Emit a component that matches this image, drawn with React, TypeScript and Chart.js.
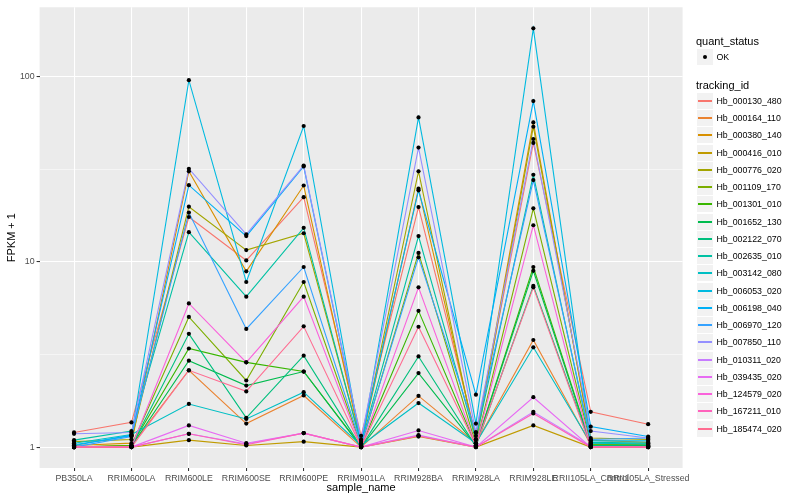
import React, { useEffect, useRef } from "react";
import { Chart, registerables } from "chart.js";

Chart.register(...registerables);

const categories = [
  "PB350LA",
  "RRIM600LA",
  "RRIM600LE",
  "RRIM600SE",
  "RRIM600PE",
  "RRIM901LA",
  "RRIM928BA",
  "RRIM928LA",
  "RRIM928LE",
  "RRII105LA_Control",
  "RRII105LA_Stressed",
];

const yMajorTicks = [1, 10, 100];
const yMinorTicks = [3.1623, 31.623];

const trackingIds = [
  "Hb_000130_480",
  "Hb_000164_110",
  "Hb_000380_140",
  "Hb_000416_010",
  "Hb_000776_020",
  "Hb_001109_170",
  "Hb_001301_010",
  "Hb_001652_130",
  "Hb_002122_070",
  "Hb_002635_010",
  "Hb_003142_080",
  "Hb_006053_020",
  "Hb_006198_040",
  "Hb_006970_120",
  "Hb_007850_110",
  "Hb_010311_020",
  "Hb_039435_020",
  "Hb_124579_020",
  "Hb_167211_010",
  "Hb_185474_020",
];

const palette = [
  "#F8766D", "#EA8331", "#D89000", "#C09B00", "#A3A500",
  "#7CAE00", "#39B600", "#00BB4E", "#00BF7D", "#00C1A3",
  "#00BFC4", "#00BAE0", "#00B0F6", "#35A2FF", "#9590FF",
  "#C77CFF", "#E76BF3", "#FA62DB", "#FF62BC", "#FF6C91",
];

const hb000130_480 = [1.2, 1.36, 17.5, 10.2, 22.4, 1.15, 19.8, 1.15, 44.0, 1.55, 1.33];
const hb000164_110 = [1.0, 1.02, 2.6, 1.34, 1.9, 1.0, 1.89, 1.05, 3.79, 1.03, 1.02];
const hb000380_140 = [1.02, 1.05, 30.9, 8.9, 25.9, 1.04, 24.9, 1.1, 56.8, 1.09, 1.06];
const hb000416_010 = [1.0, 1.0, 1.09, 1.02, 1.07, 1.0, 1.14, 1.0, 1.31, 1.0, 1.0];
const hb000776_020 = [1.07, 1.1, 19.9, 11.6, 14.3, 1.05, 30.9, 1.05, 53.8, 1.12, 1.1];
const hb001109_170 = [1.0, 1.02, 5.05, 2.29, 7.8, 1.01, 11.2, 1.03, 19.5, 1.04, 1.04];
const hb001301_010 = [1.0, 1.02, 3.41, 2.87, 2.56, 1.01, 5.45, 1.02, 9.4, 1.03, 1.03];
const hb001652_130 = [1.0, 1.01, 2.93, 2.15, 2.56, 1.0, 2.51, 1.02, 8.96, 1.02, 1.02];
const hb002122_070 = [1.0, 1.01, 4.09, 1.44, 3.12, 1.0, 3.09, 1.01, 7.43, 1.02, 1.01];
const hb002635_010 = [1.09, 1.22, 14.5, 6.5, 15.3, 1.04, 13.8, 1.1, 29.6, 1.06, 1.05];
const hb003142_080 = [1.05, 1.17, 1.71, 1.42, 1.98, 1.02, 1.73, 1.05, 3.46, 1.05, 1.04];
const hb006053_020 = [1.03, 1.15, 96, 7.8, 54.3, 1.02, 60.4, 1.34, 183, 1.08, 1.08];
const hb006198_040 = [1.02, 1.16, 26.0, 13.8, 32.8, 1.08, 24.4, 1.92, 74, 1.29, 1.14];
const hb006970_120 = [1.0, 1.14, 18.5, 4.35, 9.4, 1.03, 10.6, 1.2, 27.7, 1.1, 1.12];
const hb007850_110 = [1.18, 1.2, 31.9, 14.1, 33.2, 1.1, 41.5, 1.2, 46.2, 1.22, 1.12];
const hb010311_020 = [1.0, 1.0, 1.18, 1.04, 1.19, 1.0, 1.16, 1.0, 1.55, 1.01, 1.0];
const hb039435_020 = [1.0, 1.0, 1.31, 1.05, 1.19, 1.0, 1.23, 1.0, 1.86, 1.0, 1.0];
const hb124579_020 = [1.0, 1.0, 5.97, 2.87, 6.5, 1.0, 7.3, 1.02, 15.8, 1.0, 1.0];
const hb167211_010 = [1.0, 1.0, 1.18, 1.03, 1.19, 1.0, 1.15, 1.0, 1.52, 1.0, 1.0];
const hb185474_020 = [1.0, 1.0, 2.6, 2.0, 4.49, 1.0, 4.47, 1.02, 7.3, 1.0, 1.0];

const seriesValues = [
  hb000130_480, hb000164_110, hb000380_140, hb000416_010, hb000776_020,
  hb001109_170, hb001301_010, hb001652_130, hb002122_070, hb002635_010,
  hb003142_080, hb006053_020, hb006198_040, hb006970_120, hb007850_110,
  hb010311_020, hb039435_020, hb124579_020, hb167211_010, hb185474_020,
];

const FONT = "'Liberation Sans', Arial, Helvetica, sans-serif";

export default function App() {
  const ref = useRef<HTMLCanvasElement>(null);

  useEffect(() => {
    document.body.style.margin = "0";
    const canvas = ref.current;
    if (!canvas) return;

    const panelBg = {
      id: "panelBg",
      beforeDraw(chart: any) {
        const { ctx, chartArea: a } = chart;
        ctx.save();
        ctx.fillStyle = "#EBEBEB";
        ctx.fillRect(a.left, a.top, a.right - a.left, a.bottom - a.top);
        ctx.restore();
      },
    };

    const lineSets: any[] = seriesValues.map((vals, i) => ({
      type: "line",
      label: trackingIds[i],
      data: vals.map((v, j) => ({ x: j, y: v })),
      borderColor: palette[i],
      backgroundColor: palette[i],
      borderWidth: 1.1,
      pointRadius: 0,
      pointHoverRadius: 0,
      tension: 0,
      fill: false,
      order: -i,
    }));

    const pointSet: any = {
      type: "scatter",
      label: "OK",
      data: seriesValues.flatMap((vals) => vals.map((v, j) => ({ x: j, y: v }))),
      pointRadius: 2.1,
      pointHoverRadius: 2.1,
      pointBackgroundColor: "#000000",
      pointBorderWidth: 0,
      borderWidth: 0,
      showLine: false,
      order: -100,
    };

    const chart = new Chart(canvas, {
      type: "line",
      data: { datasets: [...lineSets, pointSet] },
      options: {
        animation: false,
        responsive: false,
        events: [],
        layout: { padding: { left: 0, top: 5, right: 117.4, bottom: 0 } },
        plugins: { legend: { display: false }, tooltip: { enabled: false } },
        scales: {
          x: {
            type: "linear",
            min: -0.6,
            max: 10.6,
            afterBuildTicks: (s: any) => {
              s.ticks = categories.map((_, i) => ({ value: i }));
            },
            afterFit: (s: any) => {
              s.height = 32;
            },
            ticks: {
              autoSkip: false,
              maxRotation: 0,
              minRotation: 0,
              padding: 2,
              color: "#4D4D4D",
              font: { family: FONT, size: 8.8 },
              callback: (v: any) => categories[v as number] ?? "",
            },
            grid: {
              color: "#FFFFFF",
              lineWidth: 1.07,
              tickLength: 3,
              tickColor: "#333333",
              tickWidth: 1.07,
            },
            border: { display: false },
            title: {
              display: true,
              text: "sample_name",
              color: "#000000",
              font: { family: FONT, size: 11 },
              padding: { top: 0, bottom: 5 },
            },
          },
          y: {
            type: "logarithmic",
            min: 0.771,
            max: 237.8,
            afterBuildTicks: (s: any) => {
              s.ticks = [...yMajorTicks, ...yMinorTicks]
                .sort((a, b) => a - b)
                .map((v) => ({ value: v }));
            },
            afterFit: (s: any) => {
              s.width = 39.6;
            },
            ticks: {
              autoSkip: false,
              padding: 2,
              color: "#4D4D4D",
              font: { family: FONT, size: 8.8 },
              callback: (v: any) => (yMajorTicks.includes(v as number) ? String(v) : ""),
            },
            grid: {
              color: "#FFFFFF",
              lineWidth: (c: any) => (yMajorTicks.includes(c.tick?.value) ? 1.07 : 0.53),
              tickLength: 3,
              tickWidth: 1.07,
              tickColor: (c: any) =>
                yMajorTicks.includes(c.tick?.value) ? "#333333" : "rgba(0,0,0,0)",
            },
            border: { display: false },
            title: {
              display: true,
              text: "FPKM + 1",
              color: "#000000",
              font: { family: FONT, size: 11 },
              padding: { top: 5, bottom: 0 },
            },
          },
        },
      } as any,
      plugins: [panelBg],
    });

    return () => chart.destroy();
  }, []);

  const keyLeft = 697;
  const keySize = 17;
  const keyStep = 17.25;
  const textLeft = 716.5;
  const firstCenter = 101.3;

  return (
    <div style={{ position: "absolute", left: 0, top: 0, width: 800, height: 500, background: "#FFFFFF", fontFamily: FONT }}>
      <canvas ref={ref} width={800} height={500} style={{ position: "absolute", left: 0, top: 0, width: 800, height: 500 }} />
      <div style={{ position: "absolute", left: 696, top: 34, height: 14, lineHeight: "14px", fontSize: 11, color: "#000", whiteSpace: "nowrap" }}>
        quant_status
      </div>
      <div style={{ position: "absolute", left: keyLeft, top: 49, width: 16, height: 16, background: "#F2F2F2" }}>
        <div style={{ position: "absolute", left: 6, top: 6, width: 4, height: 4, borderRadius: "50%", background: "#000" }} />
      </div>
      <div style={{ position: "absolute", left: textLeft, top: 51, height: 12, lineHeight: "12px", fontSize: 8.8, color: "#000", whiteSpace: "nowrap" }}>
        OK
      </div>
      <div style={{ position: "absolute", left: 696, top: 78, height: 14, lineHeight: "14px", fontSize: 11, color: "#000", whiteSpace: "nowrap" }}>
        tracking_id
      </div>
      {trackingIds.map((id, i) => {
        const c = firstCenter + keyStep * i;
        const top = Math.round(c - keySize / 2);
        return (
          <React.Fragment key={id}>
            <div style={{ position: "absolute", left: keyLeft, top, width: 16, height: 16, background: "#F2F2F2" }}>
              <div style={{ position: "absolute", left: 1, width: 14, top: 7, height: 2, background: palette[i] }} />
            </div>
            <div style={{ position: "absolute", left: textLeft, top: top + 2, height: 12, lineHeight: "12px", fontSize: 8.8, color: "#000", whiteSpace: "nowrap" }}>
              {id}
            </div>
          </React.Fragment>
        );
      })}
    </div>
  );
}
